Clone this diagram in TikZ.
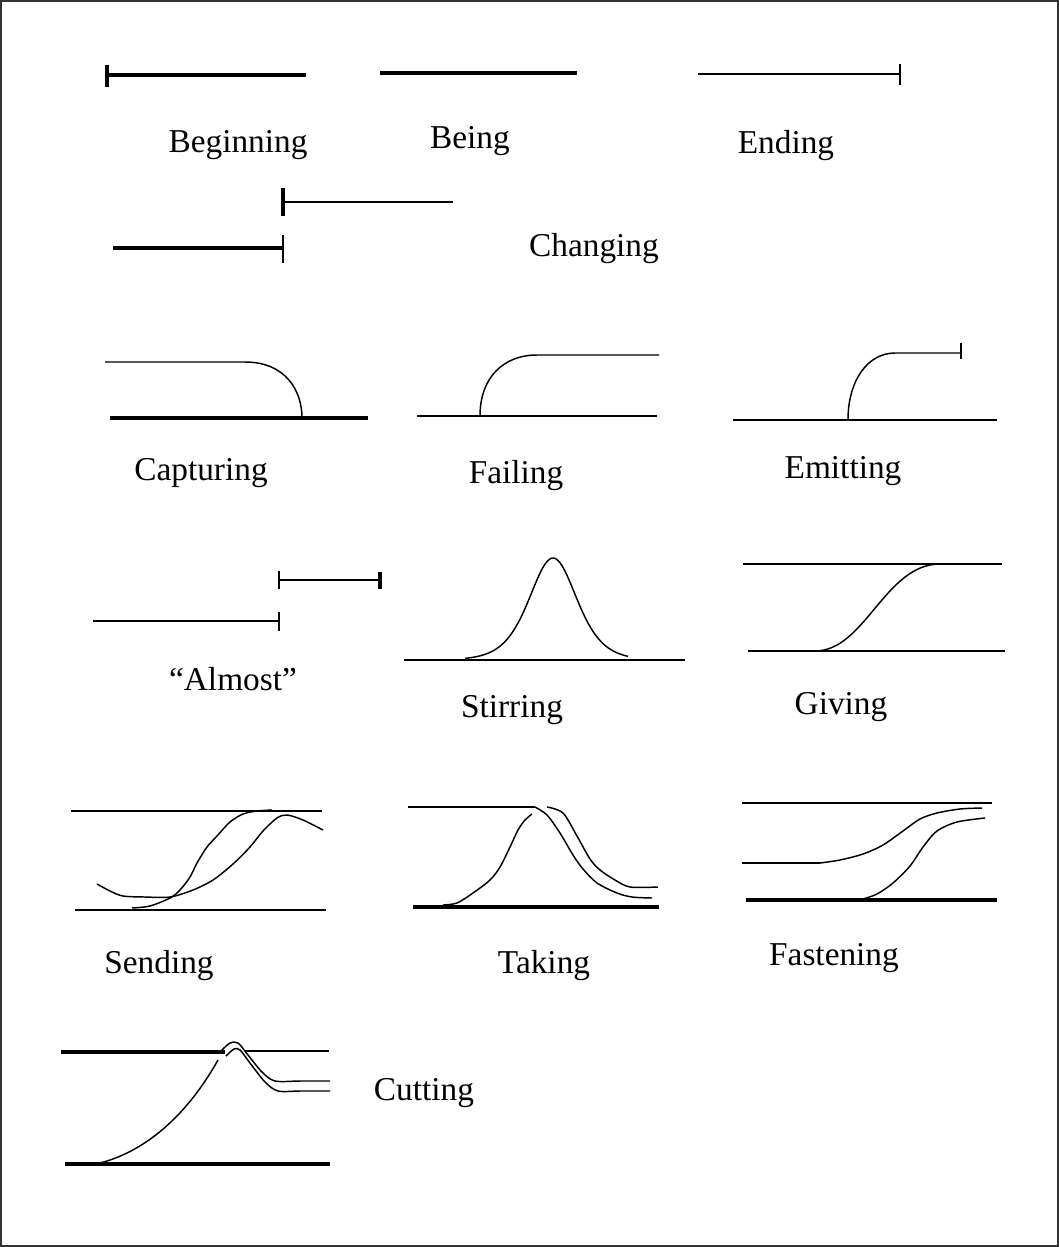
\documentclass[tikz,border=0pt]{standalone}
\usepackage{fontspec}
\setmainfont{Liberation Serif}
\begin{document}
\begin{tikzpicture}[x=0.75pt,y=-0.75pt,
  thinln/.style={line width=1.1pt,black},
  thickln/.style={line width=2.6pt,black},
  frameln/.style={line width=0.9pt,black!80},
  lbl/.style={font=\fontsize{25}{29}\selectfont,anchor=base,inner sep=0pt}]
\useasboundingbox (0,0) rectangle (1059,1247);
\draw[frameln] (1,1) rectangle (1058,1246);

% Beginning
\draw[thickln] (107,75) -- (306,75);
\draw[thickln] (107,65) -- (107,87);
\node[lbl] (beginning) at (238,152) {Beginning};
% Being
\draw[thickln] (380,73) -- (577,73);
\node[lbl] (being) at (470,148) {Being};
% Ending
\draw[thinln] (698,74) -- (900,74);
\draw[thinln] (900,64) -- (900,85);
\node[lbl] (ending) at (786,153) {Ending};

% Changing
\draw[thickln] (283,188) -- (283,216);
\draw[thinln] (283,202) -- (453,202);
\draw[thickln] (113,248) -- (283,248);
\draw[thinln] (283,235) -- (283,263);
\node[lbl] (changing) at (594,256) {Changing};

% Capturing
\draw[thinln] (105,362) -- (245,362) .. controls (285,362) and (302,390) .. (302,418);
\draw[thickln] (110,418) -- (368,418);
\node[lbl] (capturing) at (201,480) {Capturing};

% Failing
\draw[thinln] (417,416) -- (657,416);
\draw[thinln] (480,416) .. controls (480,378) and (503,355) .. (537,355) -- (659,355);
\node[lbl] (failing) at (516,483) {Failing};

% Emitting
\draw[thinln] (733,420) -- (997,420);
\draw[thinln] (848,420) .. controls (848,380) and (868,353) .. (895,353) -- (961,353);
\draw[thinln] (961,343) -- (961,359);
\node[lbl] (emitting) at (843,478) {Emitting};

% Almost
\draw[thinln] (279,571) -- (279,589);
\draw[thinln] (279,580) -- (380,580);
\draw[thickln] (380,572) -- (380,589);
\draw[thinln] (93,621) -- (279,621);
\draw[thinln] (279,612) -- (279,631);
\node[lbl] (almost) at (233,690) {“Almost”};

% Stirring
\draw[thinln] (404,660) -- (685,660);
\draw[thinln] plot[domain=465:628,samples=80,smooth] (\x,{660-102/(cosh((\x-553)/32))^2});
\node[lbl] (stirring) at (512,717) {Stirring};

% Giving
\draw[thinln] (743,564) -- (1002,564);
\draw[thinln] (748,651) -- (1005,651);
\draw[thinln] (815,651) .. controls (865,651) and (885,564) .. (940,564);
\node[lbl] (giving) at (841,714) {Giving};

% Sending
\draw[thinln] (71,811) -- (322,811);
\draw[thinln] (75,910) -- (326,910);
\draw[thinln] plot[smooth] coordinates {(132,908) (150,906) (170,898) (180,890) (190,877) (197,863) (207,847) (217,836) (230,822) (243,814) (257,811) (272,810)};
\draw[thinln] plot[smooth] coordinates {(97,884) (110,891) (123,896) (145,897) (170,897) (193,890) (213,880) (233,864) (250,847) (263,831) (277,818) (287,815) (303,820) (323,830)};
\node[lbl] (sending) at (159,973) {Sending};

% Taking
\draw[thinln] (408,807) -- (535,807);
\draw[thickln] (413,907) -- (659,907);
\draw[thinln] plot[smooth] coordinates {(443,905) (457,903) (473,893) (490,880) (500,867) (510,847) (518,830) (525,820) (532,814)};
\draw[thinln] plot[smooth] coordinates {(535,807) (547,815) (560,833) (573,855) (583,869) (597,883) (617,893) (632,897) (652,898)};
\draw[thinln] plot[smooth] coordinates {(547,807) (563,813) (577,836) (590,859) (600,870) (615,880) (630,887) (658,887)};
\node[lbl] (taking) at (544,973) {Taking};

% Fastening
\draw[thinln] (742,803) -- (992,803);
\draw[thickln] (746,900) -- (997,900);
\draw[thinln] (742,863) -- (820,863);
\draw[thinln] plot[smooth] coordinates {(820,863) (840,860) (863,854) (883,845) (903,831) (920,819) (937,813) (960,809) (982,808)};
\draw[thinln] plot[smooth] coordinates {(863,899) (877,894) (893,883) (910,866) (923,847) (937,831) (957,822) (985,818)};
\node[lbl] (fastening) at (834,965) {Fastening};

% Cutting
\draw[thickln] (61,1052) -- (225,1052);
\draw[thinln] (245,1051) -- (329,1051);
\draw[thickln] (65,1164) -- (330,1164);
\draw[thinln] (100,1163) .. controls (150,1150) and (190,1110) .. (218,1060);
\draw[thinln] plot[smooth] coordinates {(222,1050) (230,1043) (238,1043) (248,1055) (262,1072) (275,1081) (300,1081) (330,1081)};
\draw[thinln] plot[smooth] coordinates {(226,1056) (234,1049) (240,1050) (250,1063) (265,1082) (278,1091) (300,1091) (330,1091)};
\node[lbl] (cutting) at (424,1100) {Cutting};
\end{tikzpicture}
\end{document}
